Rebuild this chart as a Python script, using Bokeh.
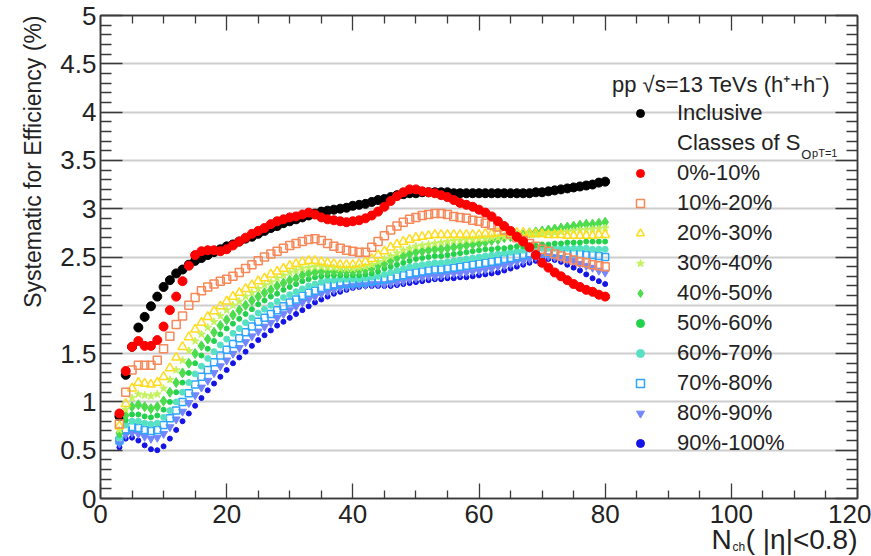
from bokeh.plotting import figure
from bokeh.models import (FixedTicker, LinearAxis, Label, Legend, LegendItem,
                          CustomJSTickFormatter, ColumnDataSource, Title)
from bokeh.embed import file_html
from bokeh.resources import INLINE

# ---------------- data ----------------
nch = list(range(3, 81))

inclusive = [0.85, 1.28, 1.57, 1.77, 1.88, 1.99, 2.09, 2.19, 2.26, 2.33,
             2.37, 2.42, 2.46, 2.49, 2.52, 2.55, 2.58, 2.61, 2.63, 2.66,
             2.69, 2.71, 2.74, 2.77, 2.80, 2.82, 2.85, 2.87, 2.89, 2.91,
             2.93, 2.95, 2.97, 2.98, 2.99, 3.00, 3.01, 3.03, 3.04, 3.05,
             3.07, 3.09, 3.10, 3.12, 3.14, 3.15, 3.16, 3.16, 3.17, 3.17,
             3.17, 3.17, 3.17, 3.16, 3.16, 3.16, 3.16, 3.16, 3.16, 3.16,
             3.16, 3.16, 3.16, 3.16, 3.16, 3.16, 3.17, 3.17, 3.18, 3.19,
             3.20, 3.21, 3.22, 3.23, 3.24, 3.25, 3.27, 3.28]

c0_10 = [0.88, 1.32, 1.57, 1.63, 1.58, 1.58, 1.64, 1.78, 1.95, 2.09,
         2.25, 2.41, 2.52, 2.56, 2.57, 2.57, 2.56, 2.58, 2.62, 2.66,
         2.70, 2.74, 2.77, 2.80, 2.84, 2.87, 2.89, 2.91, 2.92, 2.94,
         2.96, 2.94, 2.91, 2.89, 2.88, 2.87, 2.86, 2.87, 2.88, 2.90,
         2.93, 2.97, 3.02, 3.08, 3.13, 3.17, 3.20, 3.20, 3.18, 3.17,
         3.16, 3.14, 3.12, 3.09, 3.06, 3.04, 3.02, 2.99, 2.96, 2.92,
         2.87, 2.82, 2.77, 2.71, 2.66, 2.60, 2.52, 2.44, 2.39, 2.34,
         2.30, 2.26, 2.22, 2.19, 2.16, 2.14, 2.11, 2.09]

c10_20 = [0.77, 1.10, 1.33, 1.38, 1.38, 1.38, 1.43, 1.55, 1.68, 1.80,
          1.89, 2.00, 2.08, 2.15, 2.19, 2.22, 2.25, 2.27, 2.30, 2.34,
          2.38, 2.42, 2.46, 2.50, 2.53, 2.56, 2.59, 2.62, 2.64, 2.66,
          2.68, 2.69, 2.67, 2.64, 2.61, 2.59, 2.57, 2.56, 2.55, 2.55,
          2.60, 2.66, 2.72, 2.78, 2.82, 2.86, 2.89, 2.91, 2.93, 2.94,
          2.95, 2.95, 2.94, 2.92, 2.91, 2.90, 2.88, 2.87, 2.85, 2.83,
          2.81, 2.78, 2.74, 2.70, 2.67, 2.64, 2.61, 2.58, 2.56, 2.53,
          2.51, 2.49, 2.47, 2.45, 2.44, 2.42, 2.41, 2.40]

c20_30 = [0.75, 0.98, 1.14, 1.20, 1.19, 1.18, 1.20, 1.26, 1.35, 1.46,
          1.57, 1.67, 1.75, 1.82, 1.88, 1.94, 1.99, 2.04, 2.09, 2.13,
          2.17, 2.21, 2.25, 2.28, 2.32, 2.35, 2.38, 2.41, 2.43, 2.45,
          2.46, 2.46, 2.45, 2.44, 2.43, 2.42, 2.42, 2.42, 2.43, 2.45,
          2.48, 2.52, 2.56, 2.60, 2.63, 2.66, 2.68, 2.70, 2.71, 2.72,
          2.73, 2.73, 2.73, 2.73, 2.73, 2.73, 2.73, 2.73, 2.74, 2.74,
          2.75, 2.75, 2.75, 2.75, 2.75, 2.74, 2.74, 2.74, 2.73, 2.73,
          2.73, 2.72, 2.72, 2.72, 2.72, 2.72, 2.73, 2.73]

c30_40 = [0.71, 0.92, 1.04, 1.08, 1.07, 1.06, 1.08, 1.14, 1.23, 1.33,
          1.43, 1.53, 1.63, 1.70, 1.77, 1.83, 1.89, 1.95, 2.00, 2.04,
          2.09, 2.13, 2.17, 2.21, 2.24, 2.28, 2.31, 2.34, 2.36, 2.38,
          2.39, 2.40, 2.40, 2.39, 2.39, 2.38, 2.38, 2.38, 2.39, 2.40,
          2.42, 2.45, 2.48, 2.51, 2.54, 2.57, 2.59, 2.61, 2.62, 2.63,
          2.64, 2.65, 2.66, 2.67, 2.67, 2.68, 2.68, 2.69, 2.69, 2.70,
          2.70, 2.71, 2.71, 2.72, 2.72, 2.73, 2.73, 2.74, 2.75, 2.75,
          2.76, 2.76, 2.77, 2.78, 2.78, 2.79, 2.79, 2.80]

c40_50 = [0.68, 0.86, 0.95, 0.97, 0.95, 0.93, 0.95, 1.01, 1.10, 1.20,
          1.30, 1.40, 1.50, 1.58, 1.65, 1.72, 1.79, 1.85, 1.90, 1.95,
          2.00, 2.05, 2.09, 2.13, 2.16, 2.20, 2.23, 2.26, 2.28, 2.31,
          2.33, 2.34, 2.35, 2.35, 2.35, 2.35, 2.35, 2.35, 2.36, 2.37,
          2.38, 2.41, 2.43, 2.46, 2.49, 2.51, 2.53, 2.55, 2.56, 2.57,
          2.58, 2.58, 2.59, 2.60, 2.61, 2.62, 2.63, 2.64, 2.65, 2.67,
          2.68, 2.70, 2.71, 2.72, 2.73, 2.75, 2.76, 2.77, 2.78, 2.79,
          2.80, 2.81, 2.82, 2.83, 2.84, 2.84, 2.85, 2.86]

c50_60 = [0.66, 0.81, 0.87, 0.87, 0.85, 0.84, 0.86, 0.92, 1.00, 1.10,
          1.20, 1.30, 1.40, 1.48, 1.55, 1.63, 1.70, 1.76, 1.81, 1.86,
          1.91, 1.96, 2.01, 2.05, 2.09, 2.12, 2.16, 2.19, 2.22, 2.25,
          2.27, 2.29, 2.30, 2.31, 2.31, 2.31, 2.31, 2.31, 2.31, 2.32,
          2.33, 2.35, 2.38, 2.40, 2.42, 2.44, 2.46, 2.48, 2.49, 2.50,
          2.51, 2.51, 2.52, 2.53, 2.54, 2.55, 2.56, 2.57, 2.58, 2.58,
          2.59, 2.59, 2.60, 2.61, 2.61, 2.62, 2.62, 2.63, 2.63, 2.64,
          2.64, 2.65, 2.65, 2.65, 2.66, 2.66, 2.66, 2.66]

c60_70 = [0.63, 0.76, 0.80, 0.80, 0.78, 0.77, 0.78, 0.84, 0.91, 1.00,
          1.10, 1.20, 1.29, 1.37, 1.45, 1.52, 1.59, 1.65, 1.71, 1.76,
          1.82, 1.87, 1.92, 1.96, 2.00, 2.04, 2.08, 2.11, 2.14, 2.17,
          2.20, 2.22, 2.24, 2.26, 2.26, 2.27, 2.27, 2.27, 2.27, 2.28,
          2.29, 2.30, 2.32, 2.34, 2.36, 2.38, 2.40, 2.41, 2.42, 2.43,
          2.44, 2.44, 2.45, 2.46, 2.47, 2.48, 2.49, 2.50, 2.51, 2.52,
          2.53, 2.54, 2.55, 2.56, 2.57, 2.58, 2.58, 2.59, 2.59, 2.59,
          2.59, 2.59, 2.59, 2.59, 2.59, 2.58, 2.58, 2.58]

c70_80 = [0.60, 0.71, 0.74, 0.73, 0.71, 0.70, 0.71, 0.76, 0.83, 0.91,
          1.00, 1.09, 1.18, 1.26, 1.33, 1.41, 1.48, 1.54, 1.60, 1.66,
          1.72, 1.78, 1.83, 1.87, 1.91, 1.95, 1.99, 2.03, 2.06, 2.10,
          2.13, 2.15, 2.18, 2.20, 2.21, 2.22, 2.22, 2.23, 2.23, 2.24,
          2.25, 2.26, 2.27, 2.28, 2.30, 2.31, 2.33, 2.34, 2.35, 2.36,
          2.37, 2.37, 2.38, 2.39, 2.40, 2.41, 2.42, 2.43, 2.44, 2.45,
          2.46, 2.48, 2.49, 2.50, 2.52, 2.53, 2.54, 2.55, 2.55, 2.55,
          2.55, 2.54, 2.54, 2.53, 2.52, 2.52, 2.51, 2.50]

c80_90 = [0.57, 0.66, 0.68, 0.67, 0.64, 0.62, 0.63, 0.67, 0.74, 0.82,
          0.90, 0.99, 1.07, 1.15, 1.22, 1.30, 1.37, 1.43, 1.50, 1.56,
          1.62, 1.68, 1.73, 1.78, 1.82, 1.87, 1.91, 1.95, 1.99, 2.03,
          2.06, 2.09, 2.12, 2.14, 2.16, 2.18, 2.19, 2.20, 2.21, 2.21,
          2.22, 2.22, 2.22, 2.23, 2.24, 2.25, 2.27, 2.28, 2.29, 2.30,
          2.30, 2.31, 2.32, 2.33, 2.33, 2.34, 2.35, 2.36, 2.37, 2.38,
          2.40, 2.41, 2.43, 2.45, 2.46, 2.48, 2.50, 2.51, 2.51, 2.50,
          2.49, 2.47, 2.46, 2.43, 2.41, 2.39, 2.36, 2.34]

c90_100 = [0.53, 0.62, 0.63, 0.60, 0.55, 0.51, 0.50, 0.54, 0.62, 0.71,
           0.80, 0.88, 0.96, 1.04, 1.12, 1.19, 1.26, 1.33, 1.40, 1.46,
           1.52, 1.58, 1.64, 1.69, 1.74, 1.79, 1.83, 1.87, 1.91, 1.95,
           1.99, 2.03, 2.06, 2.09, 2.12, 2.14, 2.16, 2.18, 2.19, 2.20,
           2.20, 2.20, 2.20, 2.20, 2.21, 2.22, 2.23, 2.24, 2.25, 2.26,
           2.27, 2.27, 2.28, 2.28, 2.29, 2.29, 2.30, 2.31, 2.32, 2.33,
           2.34, 2.36, 2.38, 2.40, 2.42, 2.44, 2.46, 2.48, 2.48, 2.47,
           2.45, 2.42, 2.39, 2.36, 2.32, 2.28, 2.25, 2.22]

class_labels = ["0%-10%", "10%-20%", "20%-30%", "30%-40%", "40%-50%",
                "50%-60%", "60%-70%", "70%-80%", "80%-90%", "90%-100%"]
class_values = [c0_10, c10_20, c20_30, c30_40, c40_50,
                c50_60, c60_70, c70_80, c80_90, c90_100]

x_ticks = [0, 20, 40, 60, 80, 100, 120]
y_ticks = [0, 0.5, 1, 1.5, 2, 2.5, 3, 3.5, 4, 4.5, 5]

# ---------------- styles ----------------
# (marker, size, colour, filled)
class_styles = [
    ("circle", 9, "#ff0000", True),
    ("square", 8, "#f5895a", False),
    ("triangle", 9, "#ffdc1e", False),
    ("star", 8, "#c4f25c", True),
    ("diamond", 10, "#4cdc4c", True),
    ("circle", 5, "#22d24a", True),
    ("circle", 6, "#56e2c2", True),
    ("square", 7, "#2ea4ff", False),
    ("inverted_triangle", 8, "#7486ff", True),
    ("circle", 5, "#1414e6", True),
]

FONT = "Liberation Sans"
TXT = "#222222"
AX = "#3a3a3a"

p = figure(width=871, height=556, x_range=(0, 120), y_range=(0, 5),
           output_backend="svg", toolbar_location=None,
           min_border_left=100, min_border_right=14,
           min_border_top=15, min_border_bottom=58,
           background_fill_color="white", border_fill_color="white")

p.outline_line_color = AX
p.outline_line_width = 1.5

# grid: horizontal only
p.xgrid.grid_line_color = None
p.ygrid.ticker = FixedTicker(ticks=y_ticks)
p.ygrid.grid_line_color = "#cdcdcd"
p.ygrid.grid_line_width = 2

x_minor = [v for v in range(0, 121, 5) if v % 20 != 0]
y_minor = [round(0.1 * k, 1) for k in range(0, 51) if k % 5 != 0]
xt = FixedTicker(ticks=x_ticks, minor_ticks=x_minor)
yt = FixedTicker(ticks=y_ticks, minor_ticks=y_minor)
yfmt = CustomJSTickFormatter(code="return String(Math.round(tick*10)/10);")


def style_axis(ax, tin, tmin, labels=True, standoff=4):
    ax.axis_line_color = AX
    ax.axis_line_width = 1.5
    ax.major_tick_line_color = AX
    ax.minor_tick_line_color = AX
    ax.major_tick_line_width = 1.3
    ax.minor_tick_line_width = 1.3
    ax.major_tick_in = tin
    ax.major_tick_out = 0
    ax.minor_tick_in = tmin
    ax.minor_tick_out = 0
    if labels:
        ax.major_label_text_font = FONT
        ax.major_label_text_font_size = "26px"
        ax.major_label_text_color = TXT
        ax.major_label_standoff = standoff
    else:
        ax.major_label_text_font_size = "1px"
        ax.major_label_text_color = None
        ax.major_label_standoff = 0


p.xaxis.ticker = xt
p.yaxis.ticker = yt
p.yaxis.formatter = yfmt
style_axis(p.xaxis[0], 15, 8, standoff=6)
style_axis(p.yaxis[0], 22, 11, standoff=4)

top = LinearAxis(ticker=xt)
style_axis(top, 15, 8, labels=False)
p.add_layout(top, "above")
right = LinearAxis(ticker=yt)
style_axis(right, 22, 11, labels=False)
p.add_layout(right, "right")

# ---------------- data glyphs ----------------
r_incl = p.scatter(x=nch, y=inclusive, marker="circle", size=9,
                   fill_color="black", line_color="black")

renderers = [None] * 10
for i in list(range(9, 0, -1)) + [0]:
    mk, sz, col, filled = class_styles[i]
    src = ColumnDataSource(dict(x=nch, y=class_values[i]))
    if filled:
        r = p.scatter("x", "y", source=src, marker=mk, size=sz,
                      fill_color=col, line_color=col, line_width=1)
    else:
        r = p.scatter("x", "y", source=src, marker=mk, size=sz,
                      fill_color=None, line_color=col, line_width=1.5)
    renderers[i] = r

dummy = p.scatter(x=[], y=[], marker="circle", size=1,
                  fill_alpha=0, line_alpha=0)

items = [LegendItem(label="Inclusive", renderers=[r_incl]),
         LegendItem(label="Classes of S", renderers=[dummy])]
for i, lab in enumerate(class_labels):
    items.append(LegendItem(label=lab, renderers=[renderers[i]]))

legend = Legend(items=items, location=(512, 40),
                title="pp \u221as=13 TeVs (h\u207a+h\u207b)",
                title_text_font=FONT, title_text_font_size="22px",
                title_text_font_style="normal", title_text_color=TXT,
                title_standoff=0,
                label_text_font=FONT, label_text_font_size="22px",
                label_text_color=TXT, label_standoff=9,
                label_height=30, glyph_height=20, glyph_width=56,
                spacing=0, padding=0, margin=0,
                border_line_color=None, background_fill_alpha=0)
p.add_layout(legend)

# subscript of S (spherocity estimator)
p.add_layout(Label(x=111.1, y=3.56, text="O", text_font=FONT,
                   text_font_size="13px", text_color=TXT,
                   text_align="left", text_baseline="middle"))
p.add_layout(Label(x=112.8, y=3.58, text="pT=1", text_font=FONT,
                   text_font_size="11px", text_color=TXT,
                   text_align="left", text_baseline="middle"))

# y axis title, ROOT style at the top end of the axis
p.add_layout(Title(text="Systematic for Efficiency (%)", align="right",
                   standoff=23, text_font=FONT, text_font_size="23px",
                   text_font_style="normal", text_color=TXT), "left")

# x axis title at the right end of the axis (side panels => not clipped);
# the gap after "N" holds the subscript "ch"
p.add_layout(Label(x=120, y=-0.42, text="N\u2002( |\u03b7|<0.8)",
                   text_font=FONT, text_font_size="28px", text_color=TXT,
                   text_align="right", text_baseline="middle",
                   text_line_height=1.0), "below")
p.add_layout(Label(x=100.2, y=-0.50, text="ch", text_font=FONT,
                   text_font_size="12px", text_color=TXT,
                   text_align="left", text_baseline="middle"), "right")

open("out.html", "w").write(file_html(p, INLINE))
